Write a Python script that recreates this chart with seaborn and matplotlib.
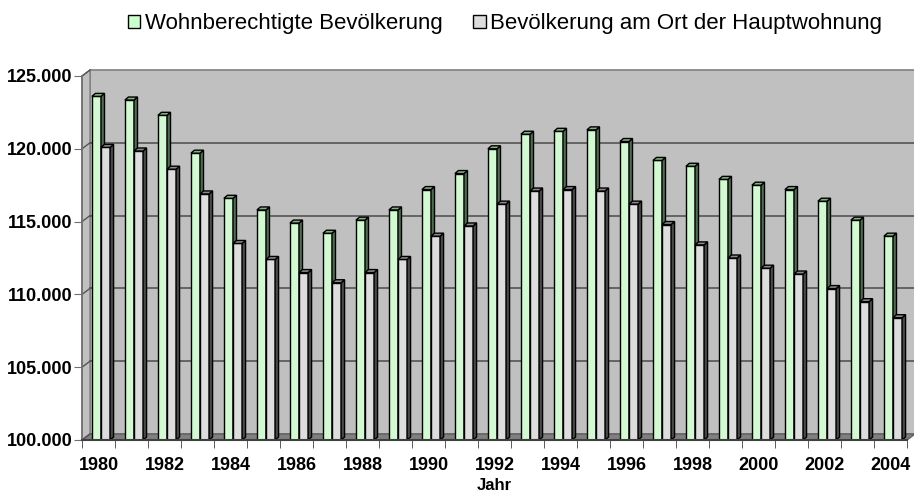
import numpy as np
import pandas as pd
import matplotlib
matplotlib.use("Agg")
import matplotlib.pyplot as plt
from matplotlib.patches import Polygon, Patch
from matplotlib.ticker import FuncFormatter
import seaborn as sns

# ---- data ----
jahre = list(range(1980, 2005))
wohnberechtigt = [123600, 123350, 122300, 119700, 116600, 115800, 114900, 114200,
                  115100, 115800, 117200, 118300, 120000, 121000, 121200, 121300,
                  120500, 119200, 118800, 117900, 117500, 117200, 116400, 115100, 114000]
hauptwohnung = [120100, 119850, 118600, 116900, 113500, 112400, 111500, 110800,
                111500, 112400, 114000, 114700, 116200, 117100, 117200, 117100,
                116200, 114800, 113400, 112500, 111800, 111400, 110400, 109500, 108400]
serien = ["Wohnberechtigte Bevölkerung", "Bevölkerung am Ort der Hauptwohnung"]
y_ticks = [100000, 105000, 110000, 115000, 120000, 125000]

front_cols = ["#CCFFCC", "#DDDDDD"]
side_cols = ["#4F6E4F", "#4A4A4A"]
top_cols = ["#86B086", "#8A8A8A"]

df = pd.DataFrame({
    "Jahr": [str(j) for j in jahre] * 2,
    "Wert": wohnberechtigt + hauptwohnung,
    "Serie": [serien[0]] * len(jahre) + [serien[1]] * len(jahre),
})

plt.rcParams["font.family"] = ["Liberation Sans", "DejaVu Sans"]

fig = plt.figure(figsize=(9.14, 4.93), dpi=100)
ax = fig.add_axes([82 / 914, 1 - 440 / 493, 825 / 914, 364 / 493])

sns.barplot(data=df, x="Jahr", y="Wert", hue="Serie", palette=front_cols,
            width=0.55, edgecolor="black", linewidth=1.0, ax=ax, legend=False)

ymin, ymax = y_ticks[0], y_ticks[-1]
xmin, xmax = -0.5, len(jahre) - 0.5
ax.set_xlim(xmin, xmax)
ax.set_ylim(ymin, ymax)

# pixel -> data conversions for the pseudo 3D look
px_x = (xmax - xmin) / ax.bbox.width
px_y = (ymax - ymin) / ax.bbox.height
wall_dx, wall_dy = 8 * px_x, 6 * px_y
bar_dx, bar_dy = 3.5 * px_x, 3.0 * px_y
shift = 2.5 * px_x  # bars sit a little deeper than the front plane

# back wall, side wall and floor
ax.set_facecolor("none")
ax.add_patch(Polygon([(xmin + wall_dx, ymin + wall_dy), (xmax + wall_dx, ymin + wall_dy),
                      (xmax + wall_dx, ymax + wall_dy), (xmin + wall_dx, ymax + wall_dy)],
                     closed=True, facecolor="#C0C0C0", edgecolor="#808080", lw=1.2,
                     zorder=0, clip_on=False))
ax.add_patch(Polygon([(xmin, ymin), (xmin, ymax), (xmin + wall_dx, ymax + wall_dy),
                      (xmin + wall_dx, ymin + wall_dy)],
                     closed=True, facecolor="#C0C0C0", edgecolor="#808080", lw=1.0,
                     zorder=0, clip_on=False))
ax.add_patch(Polygon([(xmin, ymin), (xmax, ymin), (xmax + wall_dx, ymin + wall_dy),
                      (xmin + wall_dx, ymin + wall_dy)],
                     closed=True, facecolor="#808080", edgecolor="#606060", lw=1.0,
                     zorder=0.2, clip_on=False))
for v in y_ticks[1:-1]:
    ax.plot([xmin + wall_dx, xmax + wall_dx], [v + wall_dy, v + wall_dy],
            color="#555555", lw=1.2, zorder=0.5, clip_on=False)
for v in y_ticks:
    ax.plot([xmin, xmin + wall_dx], [v, v + wall_dy], color="#555555", lw=1.0,
            zorder=0.5, clip_on=False)

# 3D faces on the bars
for i, cont in enumerate(ax.containers):
    z = 2 + i
    for bar in cont:
        bar.set_zorder(z)
        bar.set_x(bar.get_x() + shift)
        x0, w, top = bar.get_x(), bar.get_width(), bar.get_height()
        x1 = x0 + w
        ax.add_patch(Polygon([(x1, ymin), (x1, top), (x1 + bar_dx, top + bar_dy),
                              (x1 + bar_dx, ymin + bar_dy)], closed=True,
                             facecolor=side_cols[i], edgecolor="black", lw=1.0, zorder=z))
        ax.add_patch(Polygon([(x0, top), (x1, top), (x1 + bar_dx, top + bar_dy),
                              (x0 + bar_dx, top + bar_dy)], closed=True,
                             facecolor=top_cols[i], edgecolor="black", lw=1.0, zorder=z))

# axes styling
for s in ["top", "right"]:
    ax.spines[s].set_visible(False)
ax.spines["left"].set_color("#707070")
ax.spines["bottom"].set_color("#404040")
ax.spines["left"].set_linewidth(1.2)
ax.spines["bottom"].set_linewidth(1.5)
ax.spines["left"].set_zorder(5)
ax.spines["bottom"].set_zorder(5)

ax.set_yticks(y_ticks)
ax.yaxis.set_major_formatter(FuncFormatter(lambda v, p: f"{v:,.0f}".replace(",", ".")))
ax.tick_params(axis="y", length=6, color="#707070", labelsize=13, pad=1)
for lab in ax.get_yticklabels():
    lab.set_fontweight("bold")

ax.set_xticks(range(0, len(jahre), 2))
ax.set_xticklabels([str(j) for j in jahre[::2]], fontsize=13, fontweight="bold")
ax.set_xticks(np.arange(xmin, xmax + 0.5, 1), minor=True)
ax.tick_params(axis="x", which="major", length=0, pad=12)
ax.tick_params(axis="x", which="minor", length=6, color="#404040")
ax.set_xlabel("Jahr", fontsize=12, fontweight="bold", labelpad=3)
ax.set_ylabel("")

handles = [Patch(facecolor=front_cols[0], edgecolor="black", lw=1.0),
           Patch(facecolor=front_cols[1], edgecolor="black", lw=1.0)]
fig.legend(handles, serien, loc="center", bbox_to_anchor=(505 / 914, 1 - 24 / 493),
           ncol=2, frameon=False, fontsize=16, handlelength=0.55, handleheight=0.55,
           handletextpad=0.2, columnspacing=1.4)

fig.savefig("out.png", dpi=100)
